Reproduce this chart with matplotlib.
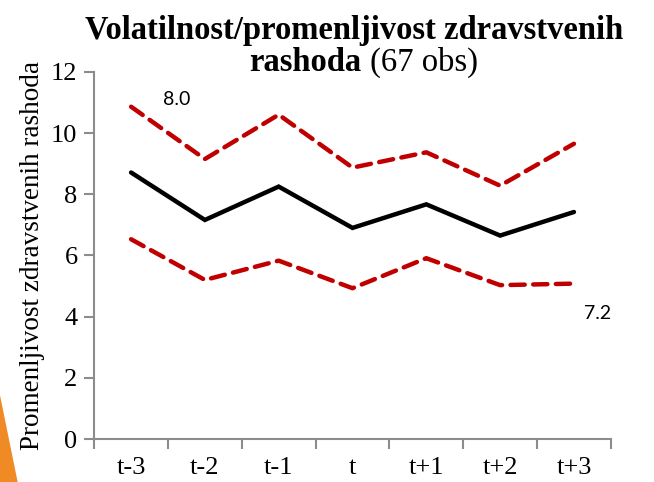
import matplotlib.pyplot as plt
from matplotlib.patches import Polygon

# data
periods = ['t-3', 't-2', 't-1', 't', 't+1', 't+2', 't+3']
mean_vol = [8.71, 7.16, 8.25, 6.90, 7.67, 6.65, 7.42]
upper_band = [10.86, 9.15, 10.60, 8.87, 9.37, 8.28, 9.65]
lower_band = [6.53, 5.20, 5.83, 4.93, 5.91, 5.03, 5.08]
yticks = [0, 2, 4, 6, 8, 10, 12]

plt.rcParams['font.family'] = 'Liberation Serif'

fig = plt.figure(figsize=(6.54, 4.82), dpi=100)
ax = fig.add_axes([0.144, 0.089, 0.79, 0.762])

x = range(len(periods))
red = '#C00000'
ax.plot(x, upper_band, color=red, lw=3.2, ls=(0, (3.2, 1.9)), dash_capstyle='round')
ax.plot(x, lower_band, color=red, lw=3.2, ls=(0, (3.2, 1.9)), dash_capstyle='round')
ax.plot(x, mean_vol, color='black', lw=3.2, solid_capstyle='round', solid_joinstyle='miter')

ax.text(0.62, 11.1, '8.0', family='Lato', fontsize=14, ha='center', va='center')
ax.text(6.32, 4.1, '7.2', family='Lato', fontsize=14, ha='center', va='center')

ax.set_xlim(-0.5, 6.5)
ax.set_ylim(0, 12)
ax.set_yticks(yticks)
ax.set_xticks(list(x))
ax.set_xticklabels(periods)
ax.set_xticks([i - 0.5 for i in range(len(periods) + 1)], minor=True)
ax.tick_params(axis='x', which='major', length=0, pad=13, labelsize=19)
ax.tick_params(axis='x', which='minor', length=7, width=1.5, color='#8c8c8c', direction='out')
ax.tick_params(axis='y', length=7, width=1.5, color='#8c8c8c', labelsize=19, pad=5)

for s in ['top', 'right']:
    ax.spines[s].set_visible(False)
for s in ['left', 'bottom']:
    ax.spines[s].set_color('#8c8c8c')
    ax.spines[s].set_linewidth(1.5)

ax.set_ylabel('Promenljivost zdravstvenih rashoda', fontsize=19.5, labelpad=4)

fig.text(0.541, 0.937, 'Volatilnost/promenljivost zdravstvenih', fontsize=23.5, fontweight='bold', ha='center', va='center')
fig.text(0.553, 0.871, 'rashoda', fontsize=23.5, fontweight='bold', ha='right', va='center')
fig.text(0.553, 0.871, ' (67 obs)', fontsize=23.5, ha='left', va='center')

# orange slide decoration in the corner
fig.patches.append(Polygon([[0, 0], [0.027, 0], [0, 0.18]], closed=True,
                           transform=fig.transFigure, facecolor='#F08A24', edgecolor='none'))

fig.savefig('out.png', dpi=100)
